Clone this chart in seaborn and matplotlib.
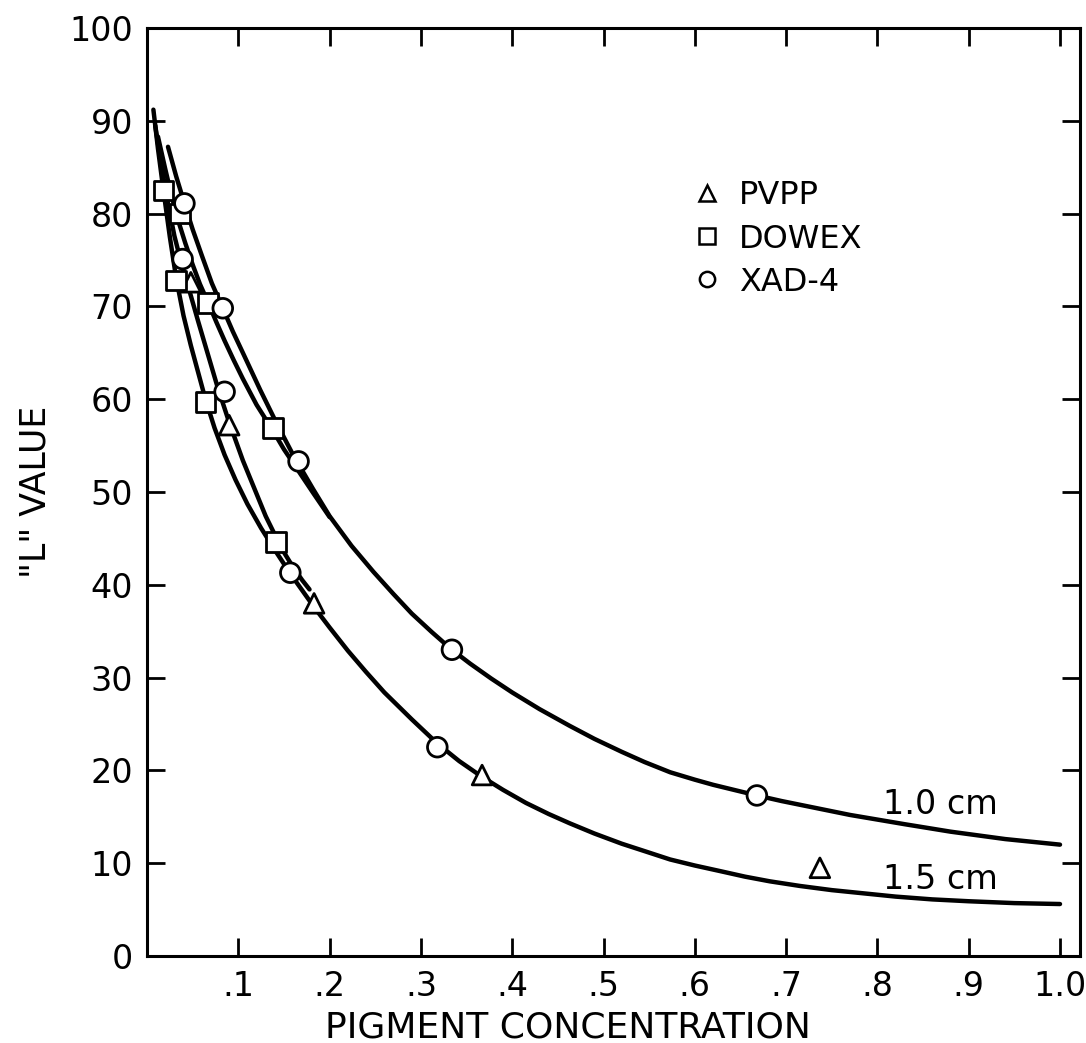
import matplotlib
matplotlib.use("Agg")
import matplotlib.pyplot as plt
from matplotlib.lines import Line2D
import seaborn as sns
import pandas as pd

# ---- data ----
# fitted curves (x = pigment concentration, y = "L" value)
curve_a_x = [0.007, 0.012, 0.018, 0.025, 0.032, 0.040, 0.048, 0.056, 0.064, 0.074, 0.085, 0.097,
             0.110, 0.125, 0.141, 0.157, 0.170, 0.183, 0.20, 0.22, 0.24, 0.26, 0.29, 0.318,
             0.342, 0.367, 0.39, 0.415, 0.44, 0.463, 0.49, 0.52, 0.545, 0.573, 0.60, 0.63,
             0.655, 0.682, 0.715, 0.75, 0.785, 0.82, 0.86, 0.90, 0.95, 1.0]
curve_a_y = [91.2, 87.0, 82.5, 77.5, 73.0, 69.0, 65.8, 62.9, 60.0, 56.9, 54.0, 51.3,
             48.7, 46.1, 43.6, 41.2, 39.4, 37.6, 35.4, 32.9, 30.6, 28.4, 25.5, 22.9,
             21.0, 19.3, 17.9, 16.5, 15.3, 14.3, 13.2, 12.1, 11.3, 10.4, 9.75, 9.1,
             8.55, 8.05, 7.55, 7.1, 6.75, 6.4, 6.1, 5.9, 5.7, 5.6]

curve_b_x = [0.009, 0.015, 0.022, 0.030, 0.038, 0.047, 0.056, 0.065, 0.077, 0.090, 0.105,
             0.120, 0.130, 0.141, 0.150, 0.160, 0.170, 0.178]
curve_b_y = [89.5, 85.6, 81.6, 77.6, 74.5, 71.5, 68.4, 65.4, 61.4, 57.5, 53.4,
             49.8, 47.4, 45.2, 43.5, 41.9, 40.5, 39.5]

curve_c_x = [0.012, 0.020, 0.027, 0.034, 0.042, 0.050, 0.058, 0.067, 0.076, 0.085, 0.095,
             0.105, 0.120, 0.138, 0.150, 0.165, 0.182, 0.20]
curve_c_y = [88.3, 84.8, 81.9, 79.3, 76.8, 74.5, 72.4, 70.4, 68.3, 66.3, 64.2,
             62.2, 59.4, 56.6, 54.6, 52.4, 49.9, 47.3]

curve_d_x = [0.023, 0.032, 0.041, 0.050, 0.060, 0.071, 0.083, 0.094, 0.105, 0.124, 0.142,
             0.160, 0.182, 0.20, 0.224, 0.248, 0.270, 0.290, 0.312, 0.334, 0.354, 0.377,
             0.40, 0.43, 0.463, 0.49, 0.52, 0.545, 0.573, 0.60, 0.62, 0.645, 0.668, 0.695,
             0.72, 0.745, 0.77, 0.80, 0.83, 0.855, 0.88, 0.91, 0.94, 0.97, 1.0]
curve_d_y = [87.2, 84.0, 81.1, 78.3, 75.5, 72.5, 69.8, 67.3, 65.0, 61.0, 57.4,
             54.0, 50.3, 47.4, 44.2, 41.4, 39.0, 36.9, 34.9, 33.0, 31.5, 29.9,
             28.4, 26.6, 24.8, 23.4, 22.0, 20.9, 19.8, 19.0, 18.45, 17.85, 17.3, 16.7,
             16.2, 15.7, 15.2, 14.7, 14.2, 13.8, 13.4, 13.0, 12.6, 12.3, 12.0]

# measured points
pvpp_x = [0.048, 0.090, 0.183, 0.367, 0.737]
pvpp_y = [72.6, 57.2, 38.0, 19.5, 9.5]
dowex_x = [0.018, 0.036, 0.032, 0.067, 0.064, 0.138, 0.141]
dowex_y = [82.5, 80.0, 72.8, 70.4, 59.7, 56.9, 44.6]
xad_x = [0.041, 0.039, 0.083, 0.085, 0.166, 0.157, 0.334, 0.318, 0.668]
xad_y = [81.1, 75.1, 69.8, 60.8, 53.3, 41.3, 33.0, 22.5, 17.3]

series_names = ["PVPP", "DOWEX", "XAD-4"]
x_ticks = [0.1, 0.2, 0.3, 0.4, 0.5, 0.6, 0.7, 0.8, 0.9, 1.0]
x_tick_labels = [".1", ".2", ".3", ".4", ".5", ".6", ".7", ".8", ".9", "1.0"]
y_ticks = [0, 10, 20, 30, 40, 50, 60, 70, 80, 90, 100]
curve_labels = ["1.0 cm", "1.5 cm"]

# ---- build tables ----
curves = [(curve_a_x, curve_a_y), (curve_b_x, curve_b_y),
          (curve_c_x, curve_c_y), (curve_d_x, curve_d_y)]
pts = pd.DataFrame({
    "x": pvpp_x + dowex_x + xad_x,
    "y": pvpp_y + dowex_y + xad_y,
    "series": [series_names[0]] * len(pvpp_x) + [series_names[1]] * len(dowex_x)
              + [series_names[2]] * len(xad_x),
})

sns.set_style("ticks")
plt.rcParams["font.family"] = ["DejaVu Sans"]
for k in ["text.color", "axes.labelcolor", "xtick.color", "ytick.color", "axes.edgecolor"]:
    plt.rcParams[k] = "black"

W, H = 1086, 1043
fig = plt.figure(figsize=(W / 100, H / 100), dpi=100)
L, R, T, B = 147, 1080, 28, 956
ax = fig.add_axes([L / W, 1 - B / H, (R - L) / W, (B - T) / H])

for cx, cy in curves:
    sns.lineplot(x=cx, y=cy, ax=ax, color="black", linewidth=3.2, sort=False,
                 estimator=None, zorder=2)

marker_map = {"PVPP": "^", "DOWEX": "s", "XAD-4": "o"}
sns.scatterplot(data=pts, x="x", y="y", style="series", markers=marker_map,
                color="white", edgecolor="black", linewidth=2.0, s=200,
                ax=ax, zorder=3, legend=False)

ax.set_xlim(0, (R - L) / 913)
ax.set_ylim(0, 100)
ax.set_xticks(x_ticks)
ax.set_xticklabels(x_tick_labels)
ax.set_yticks(y_ticks)
ax.tick_params(direction="in", length=13, width=2, top=True, right=True,
               labeltop=False, labelright=False, labelsize=24, pad=10, color="black",
               labelcolor="black")
for sp in ax.spines.values():
    sp.set_linewidth(2.2)
    sp.set_color("black")

ax.set_xlabel("PIGMENT CONCENTRATION", fontsize=26)
ax.xaxis.set_label_coords((568 - L) / (R - L), -(1028 - B) / (B - T))
ax.xaxis.label.set_va("center")
ax.set_ylabel('"L" VALUE', fontsize=25)
ax.yaxis.set_label_coords(-(L - 35) / (R - L), 0.5)
ax.yaxis.label.set_va("center")

# curve labels
ax.text(0.806, 16.3, curve_labels[0], fontsize=24, va="center", ha="left")
ax.text(0.806, 8.2, curve_labels[1], fontsize=24, va="center", ha="left")

# legend
handles = [Line2D([], [], linestyle="none", marker=marker_map[n], markersize=11,
                  markerfacecolor="white", markeredgecolor="black", markeredgewidth=1.8)
           for n in series_names]
ax.legend(handles, series_names, loc="upper left", bbox_to_anchor=(0.566, 0.853),
          frameon=False, fontsize=23, handletextpad=0.5, labelspacing=0.38,
          handlelength=1.0, borderpad=0)

fig.savefig("out.png", dpi=100, facecolor="white")
